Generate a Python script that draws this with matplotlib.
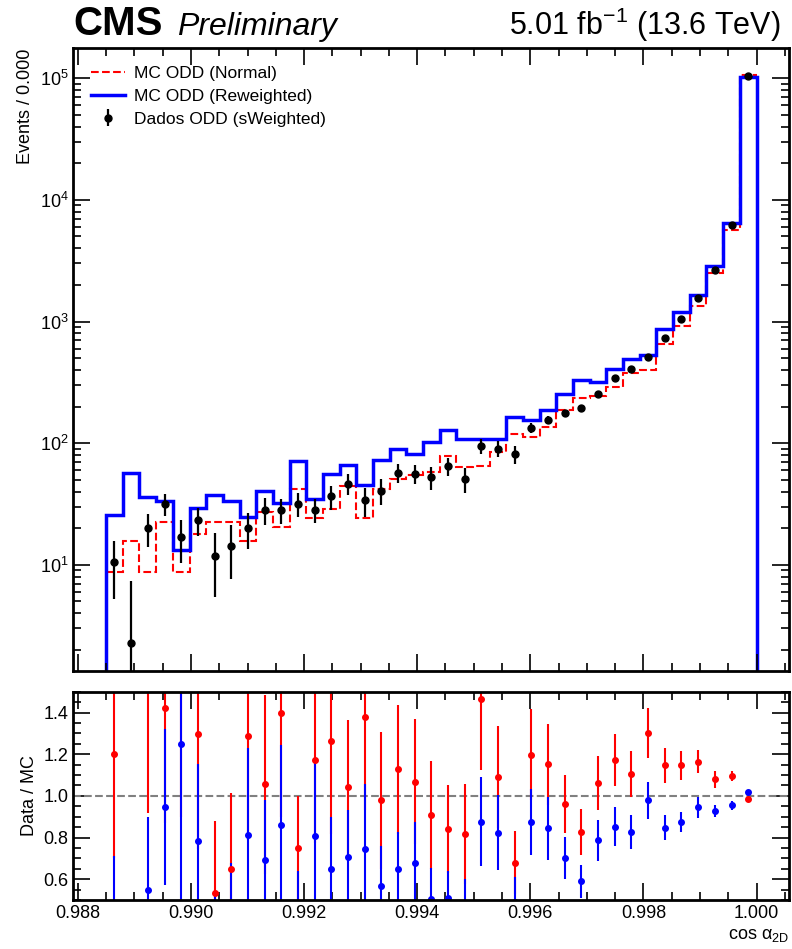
import numpy as np
import matplotlib
matplotlib.use("Agg")
import matplotlib.pyplot as plt
from matplotlib.ticker import MultipleLocator, LogLocator, NullFormatter

plt.rcParams['font.family'] = ['Liberation Sans', 'DejaVu Sans']
plt.rcParams['mathtext.fontset'] = 'custom'
plt.rcParams['mathtext.rm'] = 'Liberation Sans'
plt.rcParams['mathtext.it'] = 'Liberation Sans:italic'

# binning: 39 bins in cos(alpha_2D)
edges = np.linspace(0.9885, 1.0, 40)

mc_normal = [8.8, 15.6, 8.8, 22.5, 8.8, 17.9, 22.5, 22.5, 15.6, 27.0, 20.3, 42.2, 24.3,
             28.9, 44.7, 24.3, 42.0, 51.1, 54.3, 57.9, 77.8, 63.7, 65.2, 84.9, 119, 113,
             137, 188, 235, 242, 292, 376, 401, 656, 927, 1352, 2501, 5676, 106000]
mc_reweighted = [25.5, 57.4, 36.1, 33.2, 13.3, 29.6, 37.7, 33.2, 24.7, 40.6, 32.2, 72, 34.9,
                 56.1, 66.1, 44.9, 73.1, 90.4, 82.2, 103, 129, 109, 108, 109, 164, 155,
                 186, 253, 332, 321, 406, 494, 532, 871, 1208, 1637, 2871, 6430, 103000]
data = [10.5, 2.3, 20.0, 31.6, 16.8, 23.2, 11.9, 14.4, 20.0, 28.2, 28.2, 31.6, 28.5,
        36.5, 46.4, 33.8, 40.8, 57.4, 56.1, 52.6, 64.4, 50.7, 94.7, 90.4, 81.3, 134,
        156, 177, 194, 253, 343, 408, 515, 731, 1047, 1546, 2663, 6233, 104500]
data_err = [5.3, 5.0, 6.0, 6.5, 6.5, 6.0, 6.5, 6.7, 6.5, 7.0, 6.5, 7.0, 6.5,
            8.0, 9.0, 9.0, 9.5, 10, 10, 11, 11, 11.5, 13.5, 13, 14, 12,
            12, 12, 13, 15, 17, 19, 22, 27, 33, 40, 55, 80, 330]

nan = np.nan
ratio_normal = [1.20, nan, 2.27, 1.42, 1.90, 1.297, 0.536, 0.647, 1.288, 1.056, 1.40, 0.751, 1.172,
                1.265, 1.043, 1.381, 0.978, 1.127, 1.067, 0.907, 0.84, 0.817, 1.466, 1.092, 0.679,
                1.198, 1.151, 0.96, 0.827, 1.06, 1.172, 1.106, 1.30, 1.146, 1.146, 1.164, 1.080,
                1.096, 0.987]
ratio_normal_err = [0.50, nan, 1.35, 0.55, 1.0, 0.55, 0.342, 0.365, 0.5, 0.43, 0.5, 0.249, 0.4,
                    0.45, 0.32, 0.45, 0.33, 0.31, 0.30, 0.26, 0.21, 0.24, 0.34, 0.245, 0.15,
                    0.22, 0.195, 0.14, 0.11, 0.13, 0.125, 0.11, 0.12, 0.085, 0.07, 0.055, 0.04,
                    0.025, 0.006]
ratio_rew = [0.41, nan, 0.55, 0.946, 1.248, 0.785, 0.32, 0.43, 0.814, 0.692, 0.862, 0.44, 0.809,
             0.648, 0.706, 0.746, 0.568, 0.648, 0.679, 0.506, 0.51, 0.465, 0.875, 0.822, 0.49,
             0.875, 0.844, 0.703, 0.59, 0.786, 0.852, 0.827, 0.979, 0.846, 0.875, 0.946, 0.928,
             0.954, 1.019]
ratio_rew_err = [0.30, nan, 0.35, 0.373, 0.75, 0.37, 0.2, 0.25, 0.414, 0.288, 0.38, 0.2, 0.347,
                 0.25, 0.225, 0.31, 0.19, 0.18, 0.196, 0.147, 0.13, 0.135, 0.214, 0.18, 0.12,
                 0.16, 0.15, 0.10, 0.08, 0.10, 0.095, 0.08, 0.09, 0.06, 0.05, 0.05, 0.028,
                 0.02, 0.006]

centers = 0.5 * (edges[1:] + edges[:-1])
data = np.array(data)
data_err = np.array(data_err)

fig = plt.figure(figsize=(7.92, 9.49), dpi=100)
ax = fig.add_axes([0.0926, 0.2933, 0.9033, 0.6558])
rax = fig.add_axes([0.0926, 0.0516, 0.9033, 0.2195])

ax.stairs(mc_normal, edges, color='red', ls='--', lw=1.5, baseline=None,
          label='MC ODD (Normal)')
ax.stairs(mc_reweighted, edges, color='blue', lw=2.5, baseline=1e-3,
          label='MC ODD (Reweighted)')
lo = np.minimum(data_err, data - 1e-3)
ax.errorbar(centers, data, yerr=[lo, data_err], fmt='o', color='black', ms=5,
            elinewidth=1.6, capsize=0, label='Dados ODD (sWeighted)')

ax.set_yscale('log')
ax.set_ylim(1.35, 1.76e5)
ax.set_xlim(0.98792, 1.00057)
ax.set_ylabel('Events / 0.000', fontsize=13, loc='top')
ax.tick_params(labelbottom=False)

h, l = ax.get_legend_handles_labels()
ax.legend(h, l, loc='upper left', frameon=False, fontsize=12.5,
          handlelength=2.0, handletextpad=0.5, borderaxespad=0.6, labelspacing=0.45)

ax.text(0.0, 1.022, 'CMS', transform=ax.transAxes, fontsize=29, fontweight='bold',
        va='baseline', ha='left')
ax.text(0.145, 1.022, 'Preliminary', transform=ax.transAxes, fontsize=23,
        style='italic', va='baseline', ha='left')
ax.text(0.988, 1.022, r'5.01 fb$^{-1}$ (13.6 TeV)', transform=ax.transAxes,
        fontsize=22, va='baseline', ha='right')

# ratio panel
rax.axhline(1.0, color='grey', ls='--', lw=1.5)
rax.errorbar(centers, ratio_normal, yerr=ratio_normal_err, fmt='o', color='red',
             ms=4, elinewidth=1.5, capsize=0)
rax.errorbar(centers, ratio_rew, yerr=ratio_rew_err, fmt='o', color='blue',
             ms=4, elinewidth=1.5, capsize=0)
rax.set_ylim(0.5, 1.5)
rax.set_xlim(0.98792, 1.00057)
rax.set_ylabel('Data / MC', fontsize=13)
rax.set_xlabel('cos α$_{\\mathrm{2D}}$', fontsize=13, loc='right')
rax.xaxis.set_major_locator(MultipleLocator(0.002))
rax.xaxis.set_minor_locator(MultipleLocator(0.0005))
rax.xaxis.set_major_formatter(matplotlib.ticker.FormatStrFormatter('%.3f'))
rax.yaxis.set_major_locator(MultipleLocator(0.2))
rax.yaxis.set_minor_locator(MultipleLocator(0.05))
rax.yaxis.set_major_formatter(matplotlib.ticker.FormatStrFormatter('%.1f'))

ax.xaxis.set_major_locator(MultipleLocator(0.002))
ax.xaxis.set_minor_locator(MultipleLocator(0.0005))
ax.yaxis.set_major_locator(LogLocator(base=10, numticks=10))
ax.yaxis.set_minor_locator(LogLocator(base=10, subs=np.arange(2, 10), numticks=10))
ax.yaxis.set_minor_formatter(NullFormatter())

for a in (ax, rax):
    a.tick_params(which='both', direction='in', top=True, right=True, labelsize=13,
                  width=1.2)
    a.tick_params(which='major', length=12)
    a.tick_params(which='minor', length=6)
    for s in a.spines.values():
        s.set_linewidth(2)

fig.savefig('out.png', dpi=100)
